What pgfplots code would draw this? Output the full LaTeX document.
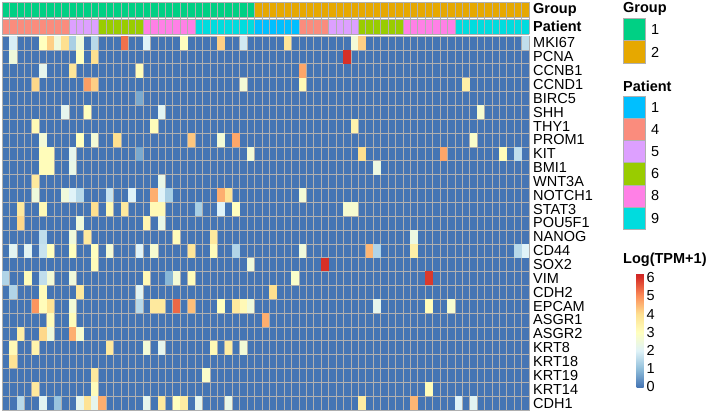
\documentclass[border=0pt]{standalone}
\usepackage{fontspec}
\setmainfont{Liberation Sans}
\usepackage{pgfplots}
\usepackage{pgfplotstable}
\pgfplotsset{compat=1.18}

\definecolor{hm0}{RGB}{69,117,180}
\colorlet{gridc}{gray!62}
\definecolor{g1}{RGB}{0,208,132}
\definecolor{g2}{RGB}{230,168,0}
\definecolor{p1}{RGB}{0,191,255}
\definecolor{p4}{RGB}{250,140,125}
\definecolor{p5}{RGB}{221,160,255}
\definecolor{p6}{RGB}{153,204,0}
\definecolor{p8}{RGB}{255,128,230}
\definecolor{p9}{RGB}{0,220,222}

% one heatmap cell, 527/71 x 374/27 pt
\pgfdeclareplotmark{cell}{%
  \pgfpathrectangle{\pgfpoint{-3.712pt}{-6.926pt}}{\pgfpoint{7.423pt}{13.852pt}}%
  \pgfusepathqfill}

\newcommand{\lab}{\fontsize{14.5}{17}\selectfont}

% non-zero cells: column c, gene row r (0 = MKI67), value v
\pgfplotstableread{
c r v
1 0 1.9
5 0 3.0
6 0 4.2
7 0 2.5
8 0 4.0
9 0 1.3
10 0 2.5
12 0 1.5
16 0 5.3
19 0 2.0
24 0 3.0
29 0 4.2
32 0 1.8
38 0 3.8
47 0 2.6
48 0 4.2
70 0 1.6
1 1 2.5
10 1 3.0
12 1 4.0
46 1 6.0
5 2 2.2
9 2 3.8
18 2 3.1
40 2 4.7
4 3 4.1
11 3 4.8
12 3 4.2
32 3 2.6
40 3 3.2
62 3 3.5
18 4 0.7
8 5 2.2
11 5 3.0
21 5 2.1
64 5 2.7
4 6 3.2
20 6 3.1
47 6 3.4
5 7 2.6
10 7 3.0
12 7 2.6
15 7 4.0
25 7 4.3
29 7 2.6
31 7 4.7
63 7 2.8
5 8 3.1
6 8 3.1
9 8 2.2
18 8 0.7
33 8 2.6
48 8 4.0
59 8 4.7
67 8 3.1
69 8 1.6
5 9 3.1
6 9 3.1
9 9 2.3
50 9 2.4
4 10 3.7
21 10 2.3
4 11 2.5
8 11 2.5
9 11 2.0
10 11 1.5
14 11 1.7
17 11 2.0
20 11 4.6
21 11 2.0
22 11 1.3
29 11 4.6
30 11 3.9
40 11 2.6
2 12 3.7
5 12 3.2
12 12 4.0
14 12 3.2
16 12 3.7
20 12 3.2
21 12 3.2
26 12 1.3
29 12 2.0
31 12 3.0
46 12 2.7
47 12 2.7
2 13 4.1
10 13 2.5
19 13 3.3
21 13 2.3
5 14 1.6
9 14 2.5
11 14 3.7
23 14 3.1
28 14 3.7
55 14 2.4
1 15 2.1
3 15 2.1
5 15 1.7
6 15 3.0
9 15 3.0
12 15 3.0
14 15 2.6
18 15 2.0
20 15 2.7
25 15 3.8
28 15 3.1
31 15 1.4
40 15 2.5
49 15 4.5
50 15 1.4
55 15 3.5
69 15 1.5
70 15 2.0
12 16 3.1
33 16 2.5
43 16 6.0
0 17 1.4
3 17 3.1
5 17 1.6
6 17 2.6
9 17 2.5
19 17 3.2
22 17 0.9
23 17 2.6
25 17 3.1
39 17 2.8
57 17 5.9
1 18 1.4
5 18 3.1
10 18 3.7
18 18 2.1
36 18 4.0
4 19 4.9
5 19 3.1
6 19 3.9
9 19 2.6
18 19 1.5
20 19 3.7
21 19 3.7
23 19 5.4
25 19 4.4
29 19 3.0
31 19 3.7
32 19 3.2
33 19 2.5
50 19 2.2
57 19 3.1
60 19 2.7
6 20 3.1
9 20 3.1
35 20 4.6
2 21 3.5
5 21 4.1
6 21 2.5
9 21 4.6
10 21 2.7
1 22 3.2
4 22 3.4
14 22 3.7
19 22 2.6
21 22 2.2
28 22 3.2
30 22 3.6
32 22 2.6
1 23 3.9
12 24 3.7
27 24 2.8
4 25 3.7
12 25 3.1
57 25 3.1
2 26 1.5
5 26 2.1
7 26 1.1
10 26 2.2
11 26 3.9
12 26 2.2
13 26 4.6
19 26 2.2
21 26 3.7
23 26 3.0
24 26 3.6
26 26 2.2
30 26 2.3
48 26 3.6
55 26 4.5
61 26 2.0
63 26 2.1
}\cells

\begin{document}
\begin{tikzpicture}
\path[use as bounding box] (0,0) rectangle (709pt,-412pt);

% annotation bars
\begin{axis}[
  at={(2pt,-2pt)}, anchor=north west,
  scale only axis, width=527pt, height=32pt,
  xmin=-0.5, xmax=70.5, ymin=-0.5, ymax=1.5,
  xtick={0,1,...,70}, xticklabel=\empty,
  ytick={0,1},
  yticklabels={Patient,Group},
  yticklabel pos=right,
  yticklabel style={font=\lab\bfseries, inner sep=0pt, anchor=west},
  yticklabel shift=4pt,
  minor xtick={-0.5,0.5,...,70.5},
  xminorgrids,
  minor grid style={draw=gridc, line width=0.5pt},
  major tick length=0pt, minor tick length=0pt,
  axis line style={draw=none},
  axis on top,
]
\addplot[fill=g1, draw=gridc, line width=0.5pt] coordinates {(-0.5,0.5625) (33.5,0.5625) (33.5,1.5) (-0.5,1.5)} -- cycle;
\addplot[fill=g2, draw=gridc, line width=0.5pt] coordinates {(33.5,0.5625) (70.5,0.5625) (70.5,1.5) (33.5,1.5)} -- cycle;
\addplot[fill=p4, draw=gridc, line width=0.5pt] coordinates {(-0.5,-0.5) (8.5,-0.5) (8.5,0.4375) (-0.5,0.4375)} -- cycle;
\addplot[fill=p5, draw=gridc, line width=0.5pt] coordinates {(8.5,-0.5) (12.5,-0.5) (12.5,0.4375) (8.5,0.4375)} -- cycle;
\addplot[fill=p6, draw=gridc, line width=0.5pt] coordinates {(12.5,-0.5) (18.5,-0.5) (18.5,0.4375) (12.5,0.4375)} -- cycle;
\addplot[fill=p8, draw=gridc, line width=0.5pt] coordinates {(18.5,-0.5) (25.5,-0.5) (25.5,0.4375) (18.5,0.4375)} -- cycle;
\addplot[fill=p9, draw=gridc, line width=0.5pt] coordinates {(25.5,-0.5) (33.5,-0.5) (33.5,0.4375) (25.5,0.4375)} -- cycle;
\addplot[fill=p1, draw=gridc, line width=0.5pt] coordinates {(33.5,-0.5) (39.5,-0.5) (39.5,0.4375) (33.5,0.4375)} -- cycle;
\addplot[fill=p4, draw=gridc, line width=0.5pt] coordinates {(39.5,-0.5) (43.5,-0.5) (43.5,0.4375) (39.5,0.4375)} -- cycle;
\addplot[fill=p5, draw=gridc, line width=0.5pt] coordinates {(43.5,-0.5) (47.5,-0.5) (47.5,0.4375) (43.5,0.4375)} -- cycle;
\addplot[fill=p6, draw=gridc, line width=0.5pt] coordinates {(47.5,-0.5) (53.5,-0.5) (53.5,0.4375) (47.5,0.4375)} -- cycle;
\addplot[fill=p8, draw=gridc, line width=0.5pt] coordinates {(53.5,-0.5) (60.5,-0.5) (60.5,0.4375) (53.5,0.4375)} -- cycle;
\addplot[fill=p9, draw=gridc, line width=0.5pt] coordinates {(60.5,-0.5) (70.5,-0.5) (70.5,0.4375) (60.5,0.4375)} -- cycle;
\end{axis}

% heatmap
\begin{axis}[
  at={(2pt,-36pt)}, anchor=north west,
  scale only axis, width=527pt, height=374pt,
  xmin=-0.5, xmax=70.5, ymin=-0.5, ymax=26.5,
  xtick={0,1,...,70}, xticklabel=\empty,
  ytick={0,1,...,26},
  yticklabels={CDH1,KRT14,KRT19,KRT18,KRT8,ASGR2,ASGR1,EPCAM,CDH2,VIM,SOX2,CD44,NANOG,POU5F1,STAT3,NOTCH1,WNT3A,BMI1,KIT,PROM1,THY1,SHH,BIRC5,CCND1,CCNB1,PCNA,MKI67},
  yticklabel pos=right,
  yticklabel style={font=\lab, inner sep=0pt, anchor=west},
  yticklabel shift=4pt,
  minor xtick={-0.5,0.5,...,70.5},
  minor ytick={-0.5,0.5,...,26.5},
  xminorgrids, yminorgrids,
  minor grid style={draw=gridc, line width=0.5pt},
  major tick length=0pt, minor tick length=0pt,
  axis line style={draw=gridc, line width=0.5pt},
  axis on top,
  colormap={hm}{rgb255(0cm)=(69,117,180) rgb255(1cm)=(145,191,219)
    rgb255(2cm)=(224,243,248) rgb255(3cm)=(255,255,191)
    rgb255(4cm)=(254,224,144) rgb255(5cm)=(252,141,89)
    rgb255(6cm)=(215,48,39) rgb255(6.25cm)=(205,35,38)},
  point meta min=0, point meta max=6.25,
  colorbar,
  colorbar style={
    at={(parent axis.north east)}, anchor=north west,
    xshift=99pt, yshift=-237pt,
    scale only axis, width=7pt, height=114pt,
    ytick={0,1,...,6},
    yticklabel style={font=\lab, inner sep=0pt, anchor=west},
    yticklabel shift=3pt,
    /pgf/number format/assume math mode=true,
    major tick length=0pt,
    axis line style={draw=none},
  },
]
\addplot[fill=hm0, draw=none] coordinates {(-0.5,-0.5) (70.5,-0.5) (70.5,26.5) (-0.5,26.5)} -- cycle;
\addplot[scatter, only marks, mark=cell, point meta=explicit,
  scatter/use mapped color={draw=none, fill=mapped color}]
  table[x=c, y expr=26-\thisrow{r}, meta=v] {\cells};
\end{axis}

% legends
\node[anchor=west, inner sep=0pt, font=\lab\bfseries] at (623pt,-9pt) {Group};
\draw[gridc, fill=g1] (623pt,-18pt) rectangle (645pt,-40.5pt);
\draw[gridc, fill=g2] (623pt,-40.5pt) rectangle (645pt,-63pt);
\node[anchor=west, inner sep=0pt, font=\lab] at (651pt,-29.5pt) {1};
\node[anchor=west, inner sep=0pt, font=\lab] at (651pt,-52pt) {2};

\node[anchor=west, inner sep=0pt, font=\lab\bfseries] at (623pt,-86pt) {Patient};
\draw[gridc, fill=p1] (623pt,-96pt) rectangle (645pt,-118.2pt);
\draw[gridc, fill=p4] (623pt,-118.2pt) rectangle (645pt,-140.4pt);
\draw[gridc, fill=p5] (623pt,-140.4pt) rectangle (645pt,-162.6pt);
\draw[gridc, fill=p6] (623pt,-162.6pt) rectangle (645pt,-184.8pt);
\draw[gridc, fill=p8] (623pt,-184.8pt) rectangle (645pt,-207pt);
\draw[gridc, fill=p9] (623pt,-207pt) rectangle (645pt,-229.2pt);
\node[anchor=west, inner sep=0pt, font=\lab] at (651pt,-107.1pt) {1};
\node[anchor=west, inner sep=0pt, font=\lab] at (651pt,-129.3pt) {4};
\node[anchor=west, inner sep=0pt, font=\lab] at (651pt,-151.5pt) {5};
\node[anchor=west, inner sep=0pt, font=\lab] at (651pt,-173.7pt) {6};
\node[anchor=west, inner sep=0pt, font=\lab] at (651pt,-195.9pt) {8};
\node[anchor=west, inner sep=0pt, font=\lab] at (651pt,-218.1pt) {9};

\node[anchor=west, inner sep=0pt, font=\lab\bfseries] at (623pt,-260pt) {Log(TPM+1)};
\end{tikzpicture}
\end{document}
